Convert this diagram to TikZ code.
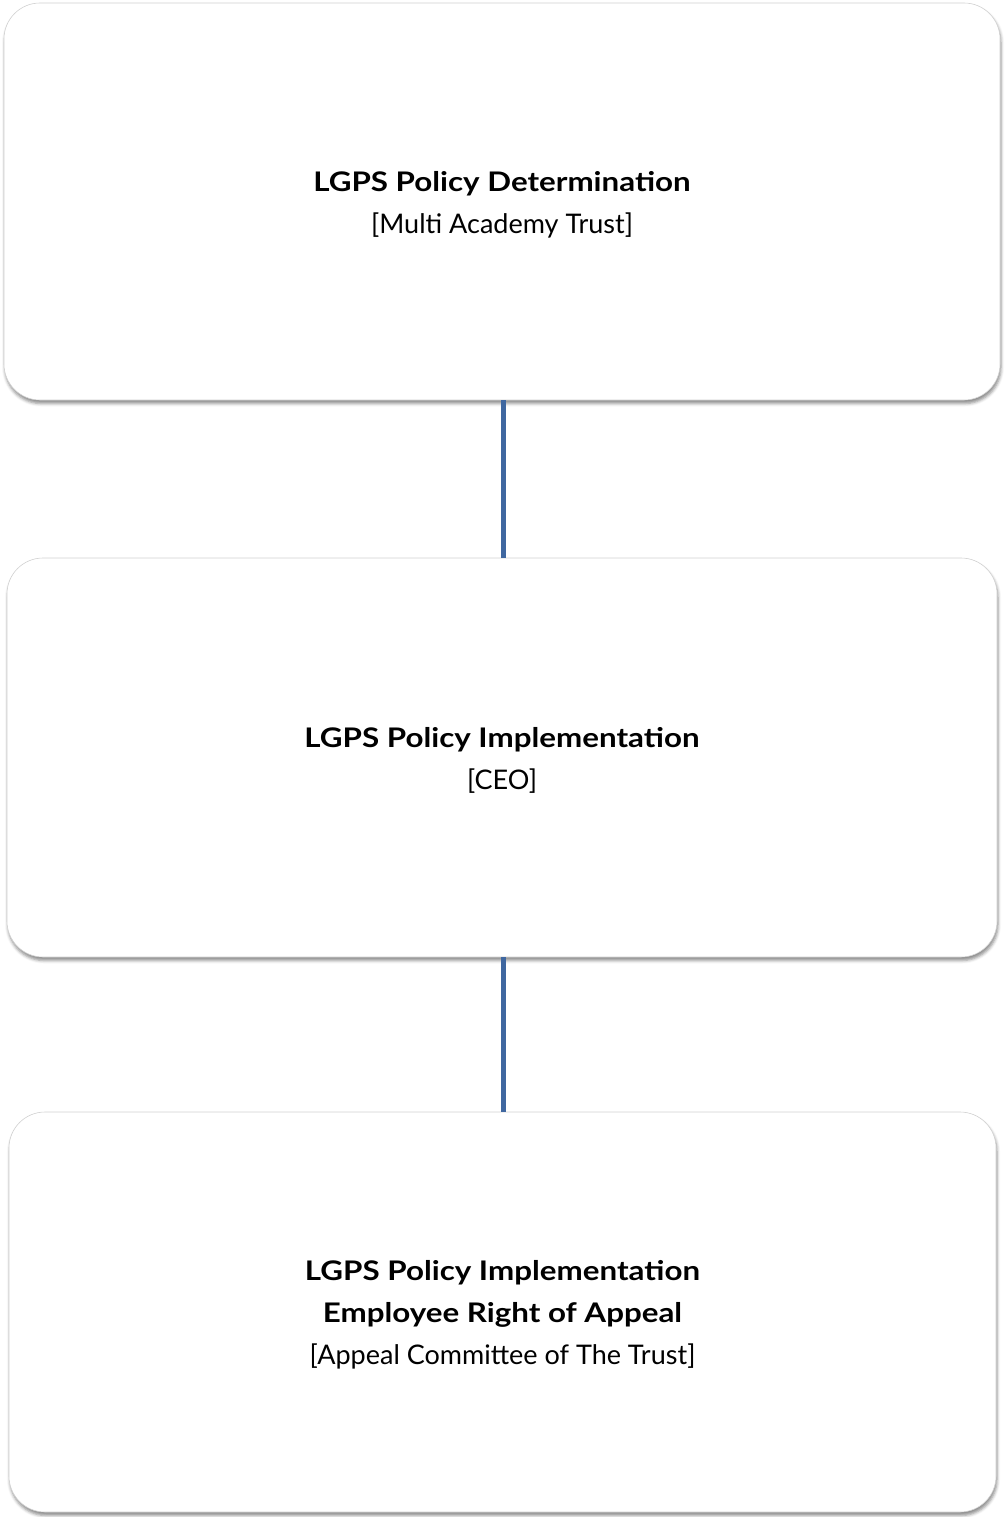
\documentclass[tikz,border=0pt]{standalone}
\usepackage{fontspec}
\setmainfont{Lato}[BoldFeatures={FakeStretch=1.16}]
\usetikzlibrary{shadows.blur}
\definecolor{linkblue}{HTML}{3F67A0}
\tikzset{
  card/.style={rectangle, rounded corners=36pt, draw=black!18, line width=0.6pt, fill=white,
    blur shadow={shadow xshift=1pt, shadow yshift=-3.5pt, shadow blur radius=3pt, shadow opacity=45}},
  cardtext/.style={align=center, font=\fontsize{27}{42}\selectfont, yshift=-3pt},
  link/.style={draw=linkblue, line width=5pt},
}
\begin{document}
\begin{tikzpicture}[x=1pt,y=-1pt]
\useasboundingbox (0,0) rectangle (1004,1517);
\node[card, minimum width=996pt, minimum height=397pt] (det) at (502,201.5) {};
\node[cardtext] (detT) at (det.center) {\textbf{LGPS Policy Determination}\\{}[Multi Academy Trust]};
\node[card, minimum width=990pt, minimum height=399pt] (imp) at (502,757.5) {};
\node[cardtext] (impT) at (imp.center) {\textbf{LGPS Policy Implementation}\\{}[CEO]};
\node[card, minimum width=987pt, minimum height=400pt] (app) at (502.5,1312) {};
\node[cardtext] (appT) at (app.center) {\textbf{LGPS Policy Implementation}\\\textbf{Employee Right of Appeal}\\{}[Appeal Committee of The Trust]};
\draw[link] ([xshift=1pt]det.south) -- ([xshift=1pt]imp.north);
\draw[link] ([xshift=1pt]imp.south) -- ([xshift=0.5pt]app.north);
\end{tikzpicture}
\end{document}
